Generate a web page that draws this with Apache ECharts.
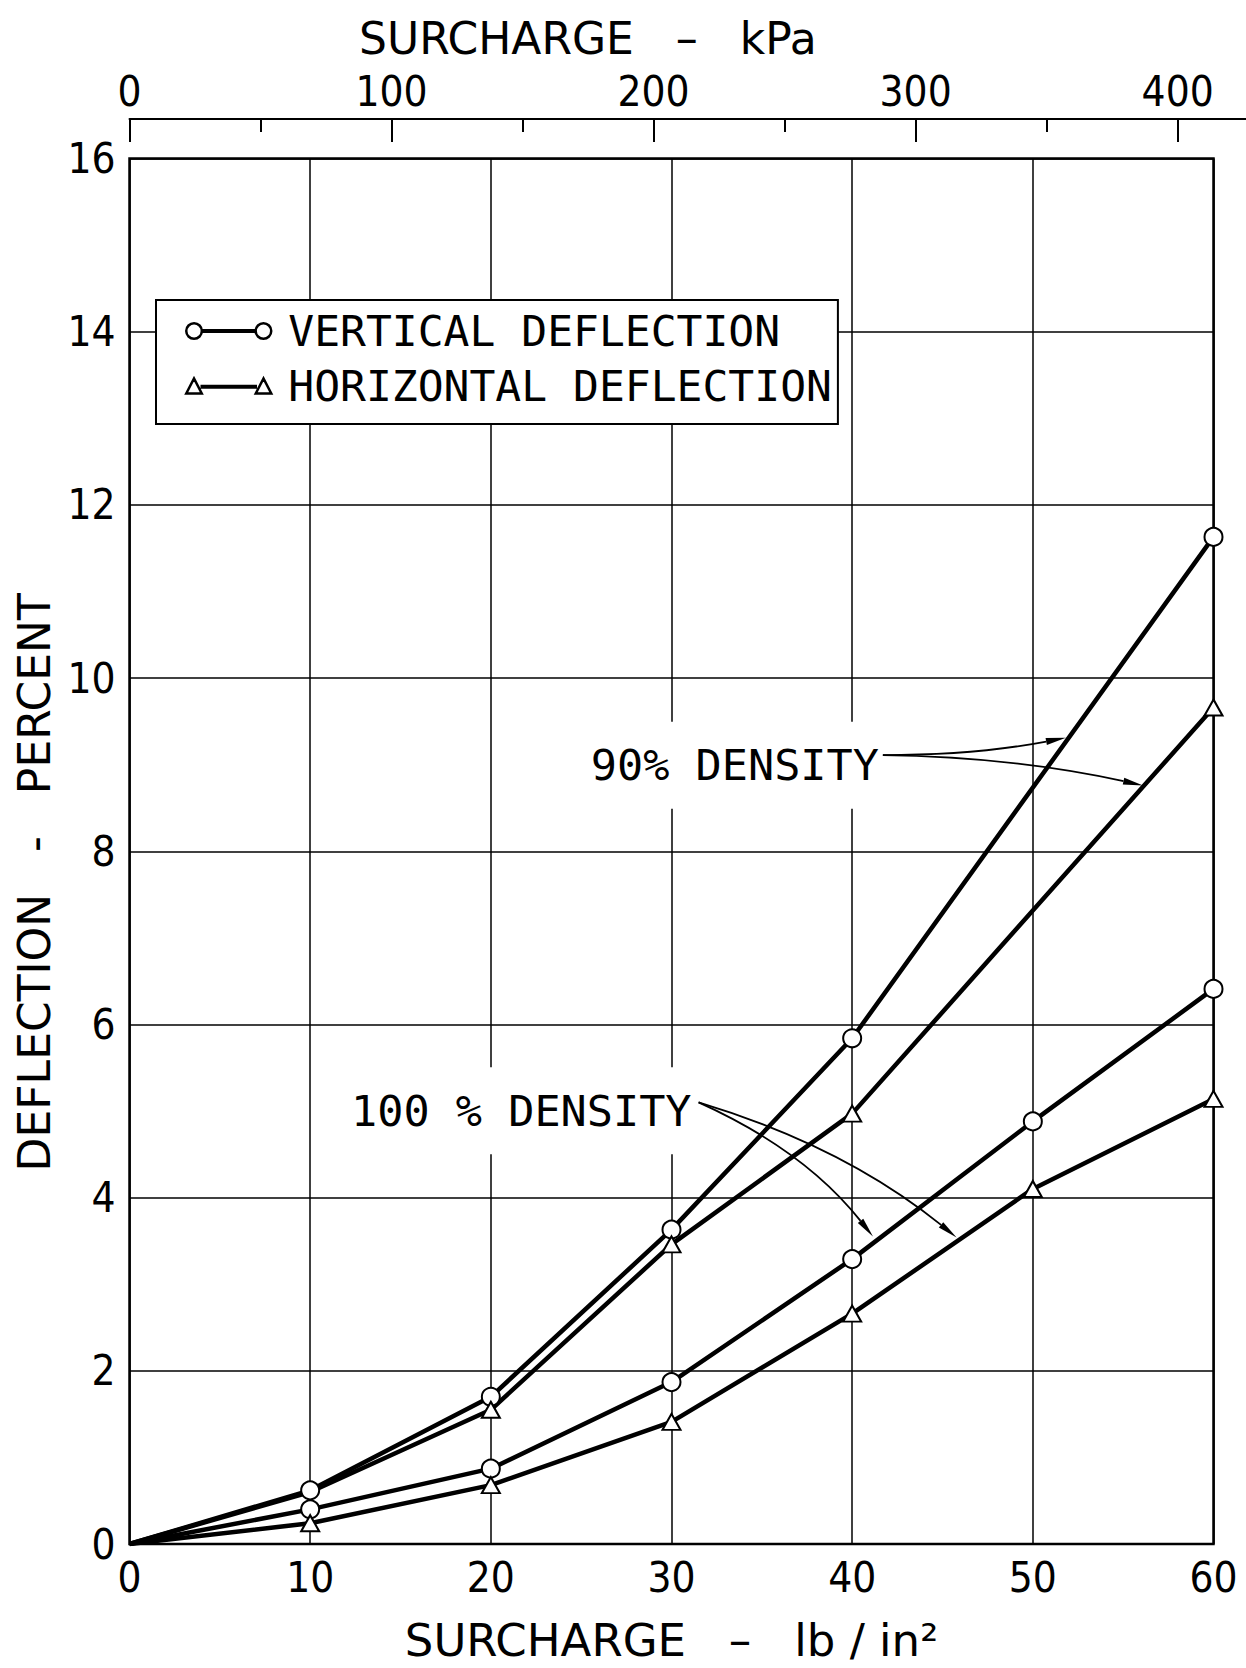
<!DOCTYPE html>
<html>
<head>
<meta charset="utf-8">
<script src="https://cdn.jsdelivr.net/npm/echarts@6/dist/echarts.min.js"></script>
<style>
  html, body { margin: 0; padding: 0; background: #fff; }
  #chart { width: 1246px; height: 1668px; }
  #chart text { white-space: pre; }
</style>
</head>
<body>
<div id="chart"></div>
<script>
// Surcharge in lb/in² at which the deflection readings were taken
const surchargePsi = [0, 10, 20, 30, 40, 50, 60];

// Deflection in percent (null: no reading at that surcharge)
const vertical90    = [0, 0.62, 1.70, 3.63, 5.84, null, 11.63];
const horizontal90  = [0, 0.60, 1.55, 3.46, 4.97, null, 9.66];
const vertical100   = [0, 0.40, 0.87, 1.87, 3.29, 4.88, 6.41];
const horizontal100 = [0, 0.24, 0.68, 1.41, 2.66, 4.10, 5.14];

// Tick labels
const psiTicks = [0, 10, 20, 30, 40, 50, 60];
const deflectionTicks = [0, 2, 4, 6, 8, 10, 12, 14, 16];
const kpaTicks = [0, 100, 200, 300, 400];

const KPA_PER_PSI = 6.894757;

// Density call-outs, placed in data units (surcharge psi, deflection %)
const densityNotes = [
  { text: '90% DENSITY', anchor: [41.48, 9.09] },
  { text: '100 % DENSITY', anchor: [31.11, 5.10] }
];
const densityArrows = [
  // from, bend, to
  [41.70, 9.11, 46.77, 9.11, 51.83, 9.31],
  [41.70, 9.11, 48.90, 9.09, 56.10, 8.76],
  [31.50, 5.10, 37.36, 4.55, 41.15, 3.55],
  [31.50, 5.10, 39.49, 4.60, 45.78, 3.54]
];

const FONT = '"DejaVu Sans", sans-serif';
const LETTER_FONT = '"DejaVu Sans Mono", "DejaVu Sans", monospace';
const DIGIT_FONT = '"DejaVu Sans Condensed", "DejaVu Sans", sans-serif';

const CANVAS_W = 1246;
const PLOT = { left: 129.5, top: 158.5, width: 1084, height: 1386 };
const KPA_AXIS_Y = 118;
const psiMax = psiTicks[psiTicks.length - 1];
// the kPa scale runs on past the frame to the right edge of the sheet
const kpaAxisMax = (CANVAS_W - PLOT.left) / PLOT.width * psiMax * KPA_PER_PSI;
const kpaHalfTicks = kpaTicks.slice(0, -1).map(function (v, i) { return (v + kpaTicks[i + 1]) / 2; });

const VERTICAL = 'VERTICAL DEFLECTION';
const HORIZONTAL = 'HORIZONTAL DEFLECTION';

// Build [x, y] points; no marker at zero load, and a triangle that sits
// under a circle at the same reading is left out.
function readings(values, coveredBy) {
  return surchargePsi.map(function (x, i) {
    const y = values[i];
    if (y == null) return null;
    const covered = coveredBy && coveredBy[i] != null && Math.abs(coveredBy[i] - y) < 0.1;
    if (x === 0 || covered) return { value: [x, y], symbol: 'none' };
    return [x, y];
  }).filter(function (d) { return d !== null; });
}

function curve(name, values, symbol, size, coveredBy) {
  return {
    type: 'line',
    name: name,
    xAxisIndex: 0,
    yAxisIndex: 0,
    data: readings(values, coveredBy),
    symbol: symbol,
    symbolSize: size,
    showSymbol: true,
    showAllSymbol: true,
    lineStyle: { color: '#000', width: 4.5 },
    itemStyle: { color: '#fff', borderColor: '#000', borderWidth: 2 },
    emphasis: { disabled: true },
    silent: true,
    z: 3
  };
}

const circleIcon = 'path://M0.25,8a7.75,7.75 0 1,0 15.5,0a7.75,7.75 0 1,0 -15.5,0Z' +
  'M16,7.25L69,7.25L69,8.75L16,8.75Z' +
  'M69.25,8a7.75,7.75 0 1,0 15.5,0a7.75,7.75 0 1,0 -15.5,0Z';
const triangleIcon = 'path://M0,15.5L7.75,0.5L15.5,15.5Z' +
  'M15.5,8L69.5,8L69.5,9.5L15.5,9.5Z' +
  'M69.5,15.5L77.25,0.5L85,15.5Z';

const LABEL_PAD = [13, 4, 30, 4];

function kpaAxis(extra) {
  return Object.assign({
    gridIndex: 1,
    type: 'value',
    position: 'top',
    min: kpaTicks[0],
    max: kpaAxisMax,
    splitLine: { show: false },
    minorTick: { show: false }
  }, extra);
}

const option = {
  animation: false,
  backgroundColor: '#fff',
  textStyle: { fontFamily: FONT, color: '#000' },
  title: {
    text: 'SURCHARGE   –   kPa',
    left: 359,
    top: 16,
    padding: 0,
    textStyle: { fontFamily: FONT, fontSize: 44, fontWeight: 'normal', color: '#000', lineHeight: 44 }
  },
  grid: [
    {
      left: PLOT.left, top: PLOT.top, width: PLOT.width, height: PLOT.height,
      show: true, borderColor: '#000', borderWidth: 2.5, backgroundColor: 'transparent'
    },
    { left: PLOT.left, right: 0, top: KPA_AXIS_Y, height: 1 }
  ],
  legend: {
    orient: 'vertical',
    left: 156,
    top: 300,
    padding: [9, 6, 16, 29],
    itemGap: 11,
    itemWidth: 85,
    itemHeight: 16,
    selectedMode: false,
    backgroundColor: '#fff',
    borderColor: '#000',
    borderWidth: 2,
    borderRadius: 0,
    itemStyle: { color: '#fff', borderColor: '#000', borderWidth: 2.5 },
    textStyle: { fontFamily: LETTER_FONT, fontSize: 43, color: '#000', lineHeight: 44, padding: [0, 0, 0, 12] },
    data: [
      { name: VERTICAL, icon: circleIcon },
      { name: HORIZONTAL, icon: triangleIcon }
    ]
  },
  xAxis: [
    {
      gridIndex: 0,
      type: 'value',
      min: psiTicks[0],
      max: psiMax,
      interval: psiTicks[1] - psiTicks[0],
      axisLine: { show: false },
      axisTick: { show: false },
      splitLine: { show: true, lineStyle: { color: '#000', width: 1.5 } },
      axisLabel: { fontFamily: DIGIT_FONT, fontSize: 42, color: '#000', margin: 12 },
      name: 'SURCHARGE   –   lb / in²',
      nameLocation: 'middle',
      nameGap: 74,
      nameTextStyle: { fontFamily: FONT, fontSize: 45, color: '#000', lineHeight: 45 }
    },
    // kPa scale: numbered ticks
    kpaAxis({
      axisLine: { show: true, lineStyle: { color: '#000', width: 2 } },
      axisTick: { show: true, inside: true, length: 23, customValues: kpaTicks, lineStyle: { color: '#000', width: 2 } },
      axisLabel: { fontFamily: DIGIT_FONT, fontSize: 42, color: '#000', margin: 6, customValues: kpaTicks }
    }),
    // kPa scale: half-way ticks
    kpaAxis({
      axisLine: { show: false },
      axisTick: { show: true, inside: true, length: 14, customValues: kpaHalfTicks, lineStyle: { color: '#000', width: 2 } },
      axisLabel: { show: false }
    })
  ],
  yAxis: [
    {
      gridIndex: 0,
      type: 'value',
      min: deflectionTicks[0],
      max: deflectionTicks[deflectionTicks.length - 1],
      interval: deflectionTicks[1] - deflectionTicks[0],
      axisLine: { show: false },
      axisTick: { show: false },
      splitLine: { show: true, lineStyle: { color: '#000', width: 1.5 } },
      axisLabel: { fontFamily: DIGIT_FONT, fontSize: 42, color: '#000', margin: 14 },
      name: 'DEFLECTION   -   PERCENT',
      nameLocation: 'middle',
      nameGap: 63,
      nameTextStyle: { fontFamily: FONT, fontSize: 44, color: '#000', lineHeight: 44, padding: [0, 62, 0, 0] }
    },
    { gridIndex: 1, type: 'value', show: false }
  ],
  series: [
    curve(VERTICAL, vertical90, 'circle', 18),
    curve(HORIZONTAL, horizontal90, 'triangle', [18, 16], vertical90),
    curve(VERTICAL, vertical100, 'circle', 18),
    curve(HORIZONTAL, horizontal100, 'triangle', [18, 16], vertical100),
    {
      // density labels, knocking the grid out behind them
      type: 'custom',
      xAxisIndex: 0,
      yAxisIndex: 0,
      silent: true,
      z: 2,
      data: densityNotes.map(function (n) { return n.anchor; }),
      renderItem: function (params, api) {
        const note = densityNotes[params.dataIndex];
        const p = api.coord([api.value(0), api.value(1)]);
        return {
          type: 'text',
          x: p[0] + LABEL_PAD[1],
          y: p[1] + (LABEL_PAD[2] - LABEL_PAD[0]) / 2,
          style: {
            text: note.text,
            fontFamily: LETTER_FONT,
            fontSize: 43.5,
            fill: '#000',
            align: 'right',
            verticalAlign: 'middle',
            backgroundColor: '#fff',
            padding: LABEL_PAD
          }
        };
      }
    },
    {
      // curved leader arrows from the labels to the curves
      type: 'custom',
      xAxisIndex: 0,
      yAxisIndex: 0,
      silent: true,
      z: 4,
      encode: { x: [0, 2, 4], y: [1, 3, 5] },
      data: densityArrows,
      renderItem: function (params, api) {
        const p0 = api.coord([api.value(0), api.value(1)]);
        const c = api.coord([api.value(2), api.value(3)]);
        const p1 = api.coord([api.value(4), api.value(5)]);
        let dx = p1[0] - c[0], dy = p1[1] - c[1];
        const len = Math.hypot(dx, dy);
        dx /= len; dy /= len;
        const L = 20, W = 3.5;
        const bx = p1[0] - dx * L, by = p1[1] - dy * L;
        return {
          type: 'group',
          children: [
            {
              type: 'bezierCurve',
              shape: { x1: p0[0], y1: p0[1], x2: bx, y2: by, cpx1: c[0], cpy1: c[1] },
              style: { stroke: '#000', lineWidth: 1.8, fill: null }
            },
            {
              type: 'polygon',
              shape: { points: [[p1[0], p1[1]], [bx - dy * W, by + dx * W], [bx + dy * W, by - dx * W]] },
              style: { fill: '#000' }
            }
          ]
        };
      }
    }
  ]
};

const chart = echarts.init(document.getElementById('chart'), null, { renderer: 'svg', width: CANVAS_W, height: 1668 });
chart.setOption(option);
</script>
</body>
</html>
